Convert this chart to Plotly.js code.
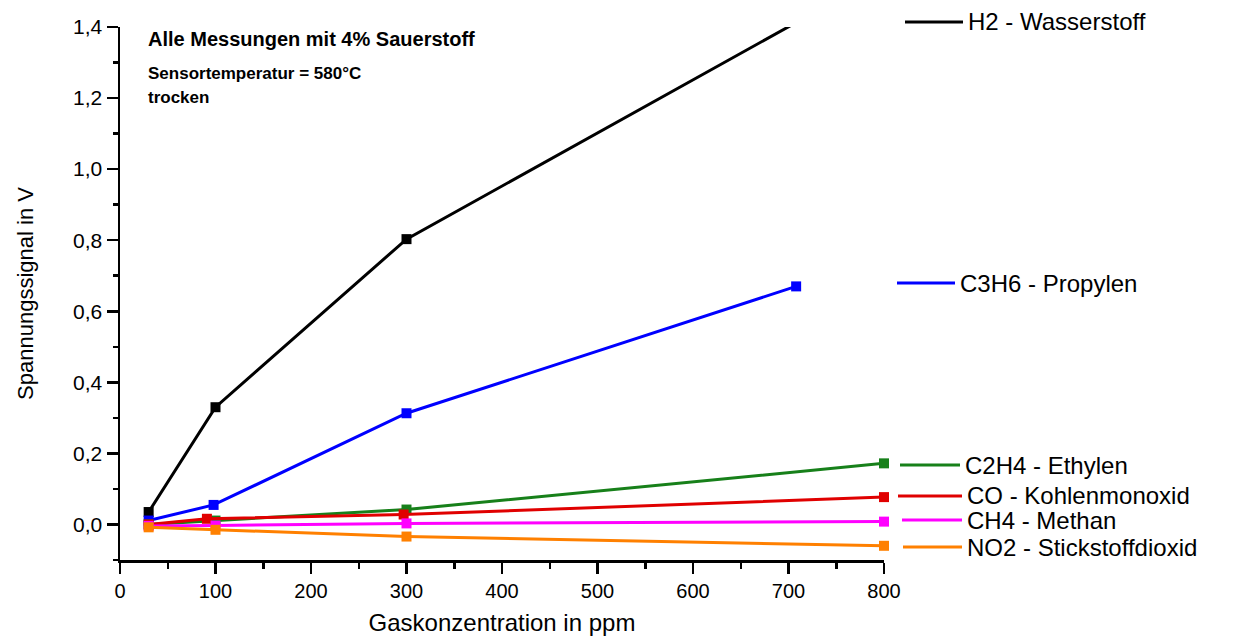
<!DOCTYPE html>
<html>
<head>
<meta charset="utf-8">
<script src="https://cdn.plot.ly/plotly-3.0.1.min.js"></script>
<style>html,body{margin:0;padding:0;background:#fff;}#chart{width:1240px;height:637px;}</style>
</head>
<body>
<div id="chart"></div>
<script>
// Series data (Gaskonzentration in ppm vs. Spannungssignal in V)
var seriesNames = ["H2 - Wasserstoff", "C3H6 - Propylen", "C2H4 - Ethylen", "CO - Kohlenmonoxid", "CH4 - Methan", "NO2 - Stickstoffdioxid"];
var xH2   = [30, 100, 300, 800];
var yH2   = [0.035, 0.33, 0.803, 1.55];
var xC3H6 = [30, 98, 300, 708];
var yC3H6 = [0.011, 0.055, 0.313, 0.67];
var xC2H4 = [30, 100, 300, 800];
var yC2H4 = [0.0, 0.011, 0.042, 0.172];
var xCO   = [30, 91, 297, 800];
var yCO   = [0.0, 0.016, 0.028, 0.077];
var xCH4  = [30, 100, 300, 800];
var yCH4  = [-0.004, -0.003, 0.003, 0.008];
var xNO2  = [30, 100, 300, 800];
var yNO2  = [-0.008, -0.015, -0.034, -0.06];
var xTicks = [0, 100, 200, 300, 400, 500, 600, 700, 800];
var yTicks = [0.0, 0.2, 0.4, 0.6, 0.8, 1.0, 1.2, 1.4];

var colors = ["#000000", "#0000ff", "#17801a", "#e00000", "#ff00ff", "#ff8000"];
var xs = [xH2, xC3H6, xC2H4, xCO, xCH4, xNO2];
var ys = [yH2, yC3H6, yC2H4, yCO, yCH4, yNO2];

var traces = [0, 1, 2, 3, 4, 5].map(function (i) {
  return {
    x: xs[i], y: ys[i], name: seriesNames[i], type: "scatter", mode: "lines+markers",
    line: { color: colors[i], width: 3 },
    marker: { color: colors[i], symbol: "square", size: 10 },
    showlegend: false, cliponaxis: false
  };
});

// plot area in pixels: left 120, right 884, top 27, bottom 560
var L = 120, R = 884, T = 27, B = 560;
function px(xp) { return (xp - L) / (R - L); }
function py(yp) { return (B - yp) / (B - T); }

var FONT = "Liberation Sans, Arial, sans-serif";

// custom legend placed next to the series ends
var legendRows = [
  { i: 0, x0: 905, x1: 963, y: 22 },
  { i: 1, x0: 897, x1: 955, y: 283 },
  { i: 2, x0: 900, x1: 960, y: 465 },
  { i: 3, x0: 898, x1: 962, y: 496 },
  { i: 4, x0: 902, x1: 962, y: 520 },
  { i: 5, x0: 903, x1: 962, y: 547 }
];
var shapes = [];
var annotations = [];
legendRows.forEach(function (r) {
  shapes.push({ type: "line", xref: "paper", yref: "paper", x0: px(r.x0), x1: px(r.x1), y0: py(r.y), y1: py(r.y),
    line: { color: colors[r.i], width: 3 } });
  annotations.push({ xref: "paper", yref: "paper", x: px(r.x1 + 3), y: py(r.y), xanchor: "left", yanchor: "middle",
    text: seriesNames[r.i], showarrow: false, font: { family: FONT, size: 24, color: "#000" } });
});

annotations.push({ xref: "paper", yref: "paper", x: px(146), y: py(39), xanchor: "left", yanchor: "middle",
  text: "<b>Alle Messungen mit 4% Sauerstoff</b>", showarrow: false,
  font: { family: FONT, size: 20, color: "#000" } });
annotations.push({ xref: "paper", yref: "paper", x: px(146), y: py(73), xanchor: "left", yanchor: "middle",
  text: "<b>Sensortemperatur = 580°C</b>", showarrow: false,
  font: { family: FONT, size: 17, color: "#000" } });
annotations.push({ xref: "paper", yref: "paper", x: px(146), y: py(98), xanchor: "left", yanchor: "middle",
  text: "<b>trocken</b>", showarrow: false,
  font: { family: FONT, size: 17, color: "#000" } });

var layout = {
  width: 1240, height: 637,
  margin: { l: L, r: 1240 - R, t: T, b: 637 - B },
  paper_bgcolor: "#ffffff", plot_bgcolor: "#ffffff",
  separators: ",.",
  font: { family: FONT, color: "#000" },
  xaxis: {
    range: [0, 800], tickvals: xTicks, ticktext: xTicks.map(String),
    showgrid: false, zeroline: false, showline: true, linecolor: "#000", linewidth: 2.5,
    ticks: "outside", ticklen: 11, tickwidth: 2.5, tickcolor: "#000",
    minor: { dtick: 50, ticks: "outside", ticklen: 6, tickwidth: 2.5, tickcolor: "#000", showgrid: false },
    tickfont: { size: 20, color: "#000" },
    title: { text: "Gaskonzentration in ppm", font: { size: 24, color: "#000" }, standoff: 14 }
  },
  yaxis: {
    range: [-0.1, 1.4], tickvals: yTicks, tickformat: ".1f",
    showgrid: false, zeroline: false, showline: true, linecolor: "#000", linewidth: 2.5,
    ticks: "outside", ticklen: 11, tickwidth: 2.5, tickcolor: "#000",
    minor: { dtick: 0.1, ticks: "outside", ticklen: 5, tickwidth: 2.5, tickcolor: "#000", showgrid: false },
    tickfont: { size: 21, color: "#000" },
    title: { text: "Spannungssignal in V", font: { size: 22, color: "#000" }, standoff: 34 }
  },
  shapes: shapes,
  annotations: annotations
};

Plotly.newPlot("chart", traces, layout, { displayModeBar: false, staticPlot: true });
</script>
</body>
</html>
